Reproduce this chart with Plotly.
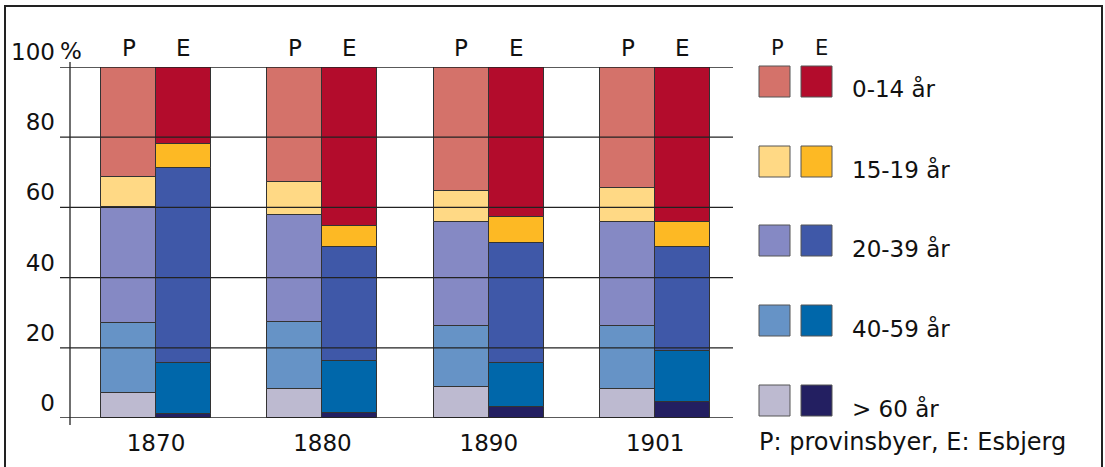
import plotly.graph_objects as go

# ---------------- data ----------------
years = ["1870", "1880", "1890", "1901"]
age_groups = ["> 60 år", "40-59 år", "20-39 år", "15-19 år", "0-14 år"]  # bottom -> top
y_ticks = [0, 20, 40, 60, 80, 100]
y_ticktext = ["0", "20", "40", "60", "80", "100"]

# P: provinsbyer (percent), bottom -> top
p_over60 = [7.1, 8.3, 8.8, 8.4]
p_40_59 = [20.0, 19.0, 17.5, 17.7]
p_20_39 = [33.0, 30.4, 29.4, 29.6]
p_15_19 = [8.5, 9.5, 9.0, 9.8]
p_0_14 = [31.4, 32.8, 35.3, 34.5]
# E: Esbjerg (percent)
e_over60 = [1.2, 1.5, 3.2, 4.7]
e_40_59 = [14.5, 14.7, 12.5, 14.4]
e_20_39 = [55.6, 32.5, 34.3, 29.5]
e_15_19 = [6.9, 5.9, 7.3, 7.1]
e_0_14 = [21.8, 45.4, 42.7, 44.3]

p_series = [p_over60, p_40_59, p_20_39, p_15_19, p_0_14]
e_series = [e_over60, e_40_59, e_20_39, e_15_19, e_0_14]
p_colors = ["#BDBAD0", "#6693C6", "#8589C4", "#FFD985", "#D4726A"]
e_colors = ["#231F61", "#0067AA", "#3F58A8", "#FDB924", "#B30C2C"]

# ---------------- layout geometry ----------------
W, H = 1105, 467
ML, MR, MT, MB = 70, 372, 67, 49
PW = W - ML - MR
PH = H - MT - MB
FONT = "DejaVu Sans"
FS = 23
INK = "#111111"
BAR_W = 0.33


def px(xp):
    return (xp - ML) / PW


def py(yp):
    return (H - MB - yp) / PH


fig = go.Figure()
idx = list(range(len(years)))
for name, vals, col in zip(age_groups, p_series, p_colors):
    fig.add_trace(go.Bar(
        x=[i - BAR_W / 2 for i in idx], y=vals, width=BAR_W, name="P " + name,
        marker=dict(color=col, line=dict(color="#333333", width=1)),
        showlegend=False, hovertemplate="P %{y}%<extra>" + name + "</extra>"))
for name, vals, col in zip(age_groups, e_series, e_colors):
    fig.add_trace(go.Bar(
        x=[i + BAR_W / 2 for i in idx], y=vals, width=BAR_W, name="E " + name,
        marker=dict(color=col, line=dict(color="#333333", width=1)),
        showlegend=False, hovertemplate="E %{y}%<extra>" + name + "</extra>"))

shapes = []
# gridlines drawn above bars, extending to tick length on the left
for t in y_ticks:
    shapes.append(dict(type="line", xref="paper", yref="y", x0=px(60), x1=1.0,
                       y0=t, y1=t, line=dict(color="#222222", width=1.3), layer="above"))
# vertical axis line (extends slightly beyond the range)
shapes.append(dict(type="line", xref="paper", yref="paper", x0=0, x1=0,
                   y0=py(425), y1=py(62), line=dict(color="#222222", width=1.3), layer="above"))
# frame
shapes.append(dict(type="rect", xref="paper", yref="paper", x0=px(5), x1=px(1102),
                   y0=py(472), y1=py(6), line=dict(color="#222222", width=2),
                   fillcolor="rgba(0,0,0,0)"))

annotations = []
# P / E labels above bars
for i in idx:
    for lab, off in (("P", -BAR_W / 2), ("E", BAR_W / 2)):
        annotations.append(dict(x=i + off, y=py(48), xref="x", yref="paper", text=lab,
                                showarrow=False, font=dict(family=FONT, size=FS, color=INK),
                                xanchor="center", yanchor="middle"))
# "%" after 100
annotations.append(dict(x=px(58), y=py(51), xref="paper", yref="paper", text="%",
                        showarrow=False, font=dict(family=FONT, size=FS, color=INK),
                        xanchor="left", yanchor="middle"))

# custom legend
box_w, box_h = 31, 31
box_tops = [66, 146, 225, 305, 385]
legend_labels = list(reversed(age_groups))
legend_p = list(reversed(p_colors))
legend_e = list(reversed(e_colors))
for top, lab, cp, ce in zip(box_tops, legend_labels, legend_p, legend_e):
    for x0, c in ((759, cp), (801, ce)):
        shapes.append(dict(type="rect", xref="paper", yref="paper",
                           x0=px(x0), x1=px(x0 + box_w), y0=py(top + box_h), y1=py(top),
                           fillcolor=c, line=dict(color="#555555", width=1)))
    annotations.append(dict(x=px(850), y=py(top + 23), xref="paper", yref="paper", text=lab,
                            showarrow=False, font=dict(family=FONT, size=FS, color=INK),
                            xanchor="left", yanchor="middle"))
for lab, cx in (("P", 777), ("E", 821)):
    annotations.append(dict(x=px(cx), y=py(48), xref="paper", yref="paper", text=lab,
                            showarrow=False, font=dict(family=FONT, size=FS - 2, color=INK),
                            xanchor="center", yanchor="middle"))
annotations.append(dict(x=px(757), y=py(442), xref="paper", yref="paper",
                        text="P: provinsbyer, E: Esbjerg", showarrow=False,
                        font=dict(family=FONT, size=FS + 1, color=INK),
                        xanchor="left", yanchor="middle"))

range_left = -(156 - ML) / 166.4
range_right = range_left + PW / 166.4

fig.update_layout(
    width=W, height=H,
    margin=dict(l=ML, r=MR, t=MT, b=MB, autoexpand=False),
    paper_bgcolor="white", plot_bgcolor="white",
    barmode="relative", bargap=0,
    font=dict(family=FONT, size=FS, color=INK),
    shapes=shapes, annotations=annotations,
    xaxis=dict(range=[range_left, range_right], tickvals=idx, ticktext=years,
               showgrid=False, zeroline=False, showline=False, ticks="",
               tickfont=dict(family=FONT, size=FS, color=INK), automargin=False,
               ticklabelstandoff=9, fixedrange=True),
    yaxis=dict(range=[0, 100], tickvals=y_ticks, ticktext=y_ticktext,
               showgrid=False, zeroline=False, showline=False, ticks="",
               tickfont=dict(family=FONT, size=FS, color=INK), automargin=False,
               ticklabelshift=-15, ticklabelstandoff=14, fixedrange=True),
)

fig.write_html("out.html", config={"displayModeBar": False},
               post_script="document.body.style.margin='0px';")
